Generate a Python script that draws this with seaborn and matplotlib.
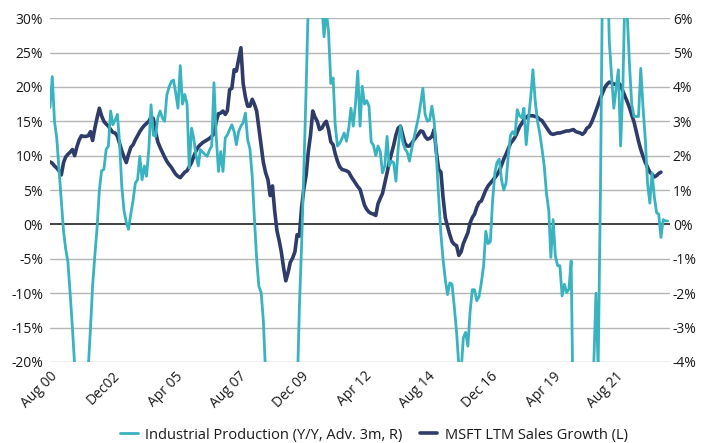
import numpy as np
import pandas as pd
import matplotlib
matplotlib.use('Agg')
import matplotlib.pyplot as plt
import matplotlib.dates as mdates
import matplotlib.transforms as mtransforms
from matplotlib.ticker import FixedLocator, FuncFormatter
import seaborn as sns

# MSFT LTM sales growth (left axis, %), monthly from Aug 2000
msft_growth = [
    9.1, 8.9, 8.5, 8.2, 7.8, 7.2, 9.0, 9.8, 10.2, 10.5, 10.9, 10.0,
    11.3, 12.3, 12.9, 12.8, 12.8, 12.9, 13.5, 12.2, 14.0, 15.5, 16.9, 15.8,
    15.0, 14.6, 14.3, 13.8, 13.4, 13.3, 12.8, 11.8, 10.7, 9.8, 9.0, 10.2,
    11.2, 11.6, 12.3, 12.9, 13.5, 14.0, 14.4, 14.7, 15.0, 15.6, 15.4, 13.5,
    12.0, 11.2, 10.5, 9.8, 9.2, 8.7, 8.3, 7.8, 7.3, 7.0, 6.8, 7.2,
    7.6, 7.8, 8.4, 9.0, 9.9, 10.7, 11.3, 11.6, 11.9, 12.1, 12.3, 12.5,
    12.8, 13.2, 15.0, 16.1, 16.2, 16.5, 16.0, 16.5, 19.6, 19.8, 22.5, 22.3,
    24.0, 25.7, 20.5, 18.5, 17.2, 17.2, 18.2, 17.5, 16.5, 14.0, 11.5, 9.0,
    7.5, 6.5, 4.2, 5.6, 2.0, -0.9, -2.4, -4.0, -6.3, -8.2, -7.0, -5.5,
    -4.9, -4.0, -1.5, -1.7, 2.5, 5.2, 7.2, 10.5, 13.0, 16.5, 15.6, 15.0,
    13.8, 14.0, 14.6, 15.0, 13.8, 12.0, 11.6, 10.3, 9.2, 8.4, 8.0, 7.9,
    7.8, 7.6, 7.0, 6.5, 6.0, 5.5, 5.1, 4.0, 2.8, 2.2, 1.8, 1.6,
    1.5, 1.3, 3.0, 3.8, 4.5, 6.0, 7.5, 9.0, 10.3, 11.5, 13.0, 14.0,
    14.3, 13.0, 11.8, 11.4, 11.4, 11.8, 12.3, 12.7, 13.1, 13.6, 13.5, 12.8,
    12.4, 12.5, 12.8, 13.8, 10.5, 8.0, 7.6, 4.0, 1.0, -0.3, -1.5, -2.5,
    -2.9, -3.1, -4.5, -4.0, -2.8, -2.0, -1.2, 0.2, 1.0, 1.5, 2.5, 3.2,
    3.4, 4.2, 5.0, 5.6, 6.0, 6.4, 6.8, 7.2, 7.8, 8.6, 9.5, 10.2,
    11.0, 11.8, 12.2, 12.7, 13.4, 14.2, 14.7, 15.2, 15.6, 15.8, 15.8, 15.8,
    15.7, 15.6, 15.3, 15.1, 14.6, 14.1, 13.6, 13.2, 13.1, 13.2, 13.3, 13.3,
    13.4, 13.5, 13.6, 13.6, 13.7, 13.8, 13.5, 13.4, 13.3, 13.1, 13.4, 14.0,
    14.2, 14.8, 15.6, 16.5, 17.4, 18.4, 19.2, 19.9, 20.4, 20.7, 20.6, 20.4,
    20.4, 20.6, 20.2, 19.4, 18.6, 17.8, 16.9, 15.9, 14.9, 13.5, 12.1, 10.9,
    9.9, 9.0, 8.3, 7.6, 7.3, 6.9, 7.1, 7.4, 7.6,
]

# Industrial production Y/Y, advanced 3 months (right axis, %), monthly from Aug 2000
ip_yoy = [
    3.4, 4.3, 3.0, 2.5, 1.6, 0.7, -0.2, -0.7, -1.1, -2.0, -3.0, -4.1,
    -4.8, -5.4, -5.6, -5.2, -4.8, -4.2, -3.0, -1.8, -0.9, -0.1, 1.0, 1.56,
    1.6, 2.18, 2.28, 3.3, 2.9, 3.04, 3.2, 2.4, 1.1, 0.4, 0.06, -0.14,
    0.3, 0.7, 1.2, 1.3, 1.98, 1.3, 1.7, 1.4, 2.18, 3.48, 2.6, 2.56,
    3.1, 3.3, 3.1, 3.0, 3.76, 4.0, 4.16, 4.2, 3.82, 3.38, 4.62, 3.5,
    3.78, 3.5, 1.64, 2.8, 2.5, 2.0, 1.7, 2.18, 2.1, 2.04, 1.98, 2.16,
    2.28, 4.12, 2.56, 1.54, 2.12, 1.54, 2.52, 2.6, 2.76, 2.9, 2.7, 2.32,
    2.7, 2.86, 2.96, 3.24, 2.46, 2.2, 1.4, 0.2, -1.0, -1.8, -1.98, -2.8,
    -4.4, -6.0, -8.0, -10.0, -12.0, -13.0, -14.0, -15.0, -15.0, -14.0, -13.0, -11.6,
    -9.6, -7.6, -5.0, -2.4, -0.6, 1.6, 4.0, 6.4, 7.6, 8.4, 8.0, 7.0,
    6.2, 6.4, 5.46, 6.2, 5.6, 4.1, 4.26, 2.9, 2.28, 2.36, 2.5, 2.66,
    2.42, 2.8, 3.38, 2.86, 3.5, 4.46, 2.86, 4.02, 3.5, 3.6, 3.44, 2.4,
    2.3, 2.0, 2.28, 2.12, 1.5, 1.7, 2.56, 1.7, 1.84, 1.8, 1.26, 2.2,
    2.86, 2.4, 2.2, 2.1, 1.84, 2.2, 2.52, 2.8, 3.1, 3.5, 3.96, 3.2,
    3.0, 3.04, 3.44, 3.0, 2.0, 0.8, -0.3, -1.0, -1.6, -2.04, -1.7, -1.74,
    -2.4, -3.14, -4.1, -4.3, -3.3, -3.14, -3.54, -2.56, -1.9, -1.9, -2.22, -2.1,
    -1.7, -1.2, -0.2, -0.56, -0.5, 0.7, 1.5, 1.8, 1.9, 1.3, 1.0, 1.2,
    2.0, 2.6, 2.7, 2.6, 3.34, 3.16, 3.1, 3.38, 2.32, 3.04, 3.7, 4.5,
    3.6, 3.0, 2.66, 2.2, 1.7, 0.9, 0.4, -0.96, 0.14, -0.92, -1.2, -1.2,
    -2.08, -1.74, -1.98, -1.88, -1.06, -6.0, -12.0, -17.0, -15.0, -11.0, -8.0, -7.0,
    -6.0, -5.0, -4.2, -2.0, -4.2, 1.0, 8.0, 12.0, 8.0, 5.32, 4.3, 3.38,
    3.96, 4.5, 2.28, 4.0, 7.0, 6.0, 4.54, 3.5, 3.14, 3.14, 3.14, 4.54,
    3.4, 2.46, 1.2, 0.62, 1.5, 0.8, 0.34, 0.3, -0.38, 0.14, 0.1, 0.1,
]

tick_dates = ['2000-08-01', '2002-12-01', '2005-04-01', '2007-08-01', '2009-12-01',
              '2012-04-01', '2014-08-01', '2016-12-01', '2019-04-01', '2021-08-01']
tick_labels = ['Aug 00', 'Dec02', 'Apr 05', 'Aug 07', 'Dec 09',
               'Apr 12', 'Aug 14', 'Dec 16', 'Apr 19', 'Aug 21']
left_ticks = [-20, -15, -10, -5, 0, 5, 10, 15, 20, 25, 30]
right_ticks = [-4, -3, -2, -1, 0, 1, 2, 3, 4, 5, 6]

NAVY = '#2f3b69'
TEAL = '#38b3bf'
TEXT = '#1a1a1a'

sns.set_theme(style='white')
plt.rcParams['font.family'] = ['Open Sans', 'DejaVu Sans']

msft_df = pd.DataFrame({
    'date': pd.date_range('2000-08-01', periods=len(msft_growth), freq='MS'),
    'value': msft_growth,
})
ip_df = pd.DataFrame({
    'date': pd.date_range('2000-08-01', periods=len(ip_yoy), freq='MS'),
    'value': ip_yoy,
})

fig = plt.figure(figsize=(7.11, 4.43), dpi=100)
ax = fig.add_axes([0.0703, 0.183, 0.872, 0.776])
ax2 = ax.twinx()

# gridlines follow the left axis (they line up with the right one too)
for v in left_ticks:
    if v == 0:
        ax.axhline(v, color='#333333', lw=1.3, zorder=1)
    else:
        ax.axhline(v, color='#b5b5b5', lw=1.0, zorder=0)

sns.lineplot(data=msft_df, x='date', y='value', ax=ax, color=NAVY, lw=2.6,
             label='MSFT LTM Sales Growth (L)', legend=False, zorder=3)
sns.lineplot(data=ip_df, x='date', y='value', ax=ax2, color=TEAL, lw=2.0,
             label='Industrial Production (Y/Y, Adv. 3m, R)', legend=False)

ax.set_ylim(-20, 30)
ax2.set_ylim(-4, 6)
ax.set_xlim(pd.Timestamp('2000-08-01'), pd.Timestamp('2023-08-01'))

ax.yaxis.set_major_locator(FixedLocator(left_ticks))
ax.yaxis.set_major_formatter(FuncFormatter(lambda v, p: f'{v:.0f}%'))
ax2.yaxis.set_major_locator(FixedLocator(right_ticks))
ax2.yaxis.set_major_formatter(FuncFormatter(lambda v, p: f'{v:.0f}%'))

ax.set_xticks([mdates.date2num(pd.Timestamp(d)) for d in tick_dates])
ax.set_xticklabels(tick_labels, rotation=45, ha='right', va='top',
                   rotation_mode='anchor')
# nudge the rotated labels a touch to the right, like the original
shift = mtransforms.ScaledTranslation(3 / 72, 0, fig.dpi_scale_trans)
for lbl in ax.get_xticklabels():
    lbl.set_transform(lbl.get_transform() + shift)

for a in (ax, ax2):
    a.set_xlabel('')
    a.set_ylabel('')
    for s in a.spines.values():
        s.set_visible(False)
    a.tick_params(length=0, labelsize=10, colors=TEXT)
ax.tick_params(axis='y', pad=5)
ax2.tick_params(axis='y', pad=2)
ax.tick_params(axis='x', pad=5)

h1, l1 = ax2.get_legend_handles_labels()
h2, l2 = ax.get_legend_handles_labels()
fig.legend(h1 + h2, l1 + l2, loc='center', bbox_to_anchor=(0.526, 0.018),
           ncol=2, frameon=False, fontsize=10.5, handlelength=1.2,
           handletextpad=0.5, columnspacing=1.2, labelcolor=TEXT)

fig.savefig('out.png', dpi=100)
